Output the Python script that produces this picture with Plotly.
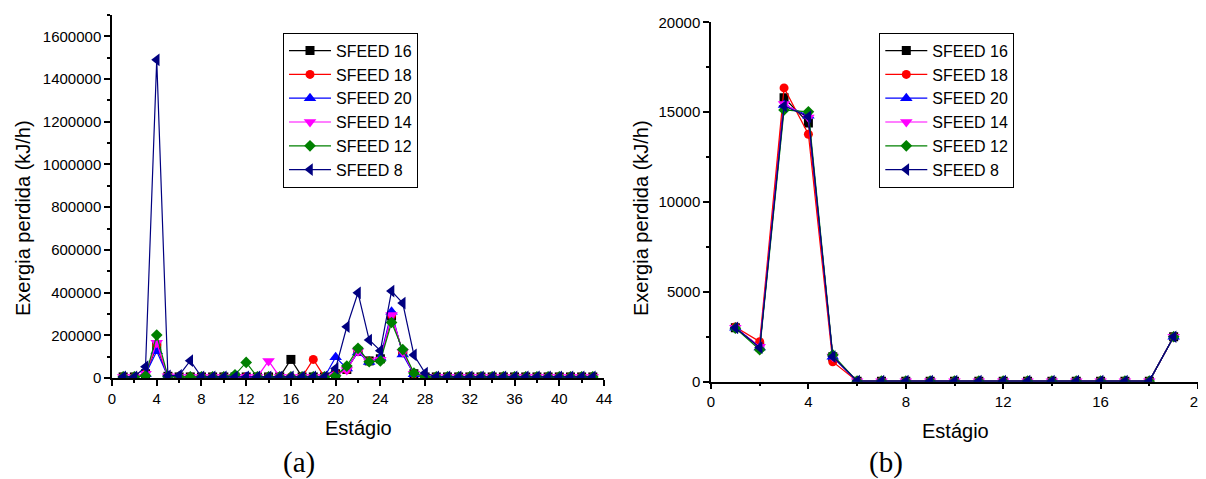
import plotly.graph_objects as go

# ---------------- data ----------------
series_names = ["SFEED 16", "SFEED 18", "SFEED 20", "SFEED 14", "SFEED 12", "SFEED 8"]
colors = ["#000000", "#FF0000", "#0000FF", "#FF00FF", "#008000", "#000080"]
symbols = ["square", "circle", "triangle-up", "triangle-down", "diamond", "triangle-left"]

stages_a = list(range(1, 44))
tail_a = [5000] * 15  # stages 29..43

sfeed16_a = [5000, 5000, 20000, 150000, 8000, 5000, 5000, 5000, 5000, 5000, 5000, 5000, 5000, 5000,
             5000, 87000, 5000, 5000, 5000, 20000, 40000, 125000, 80000, 90000, 290000, 120000, 20000,
             5000] + tail_a
sfeed18_a = [5000, 5000, 20000, 155000, 8000, 5000, 5000, 5000, 5000, 5000, 5000, 5000, 5000, 5000,
             5000, 5000, 5000, 87000, 5000, 20000, 40000, 125000, 78000, 88000, 295000, 118000, 20000,
             5000] + tail_a
sfeed20_a = [5000, 5000, 18000, 125000, 8000, 5000, 5000, 5000, 5000, 5000, 5000, 5000, 5000, 5000,
             5000, 5000, 5000, 5000, 5000, 97000, 45000, 120000, 75000, 95000, 310000, 110000, 18000,
             5000] + tail_a
sfeed14_a = [5000, 5000, 20000, 165000, 8000, 5000, 5000, 5000, 5000, 5000, 5000, 5000, 5000, 80000,
             5000, 5000, 5000, 5000, 5000, 15000, 37000, 125000, 78000, 85000, 295000, 122000, 20000,
             5000] + tail_a
sfeed12_a = [5000, 5000, 10000, 201000, 8000, 5000, 5000, 5000, 5000, 5000, 15000, 73000, 5000, 5000,
             5000, 5000, 5000, 5000, 5000, 10000, 56000, 139000, 76000, 80000, 260000, 133000, 23000,
             5000] + tail_a
sfeed8_a = [5000, 5000, 53000, 1490000, 10000, 12000, 81000, 5000, 5000, 5000, 5000, 5000, 5000, 5000,
            5000, 5000, 5000, 5000, 5000, 45000, 240000, 399000, 178000, 128000, 407000, 351000, 108000,
            23000] + tail_a

stages_b = list(range(1, 20))
zeros_b = [30] * 13  # stages 6..18
sfeed16_b = [3000, 1950, 15800, 14400, 1390] + zeros_b + [2500]
sfeed18_b = [3050, 2230, 16350, 13770, 1110] + zeros_b + [2500]
sfeed20_b = [3000, 1900, 15400, 14800, 1390] + zeros_b + [2500]
sfeed14_b = [3000, 1950, 15450, 14700, 1400] + zeros_b + [2500]
sfeed12_b = [2980, 1780, 15120, 15020, 1490] + zeros_b + [2500]
sfeed8_b = [3000, 1900, 15340, 14750, 1400] + zeros_b + [2500]

data_a = [sfeed16_a, sfeed18_a, sfeed20_a, sfeed14_a, sfeed12_a, sfeed8_a]
data_b = [sfeed16_b, sfeed18_b, sfeed20_b, sfeed14_b, sfeed12_b, sfeed8_b]

x_title = "Estágio"
y_title = "Exergia perdida (kJ/h)"
panel_labels = ["(a)", "(b)"]

# ---------------- figure ----------------
W, H = 1206, 479
OFF = 8  # page body margin


def px(x):
    return (x - OFF) / W


def py(y):
    return 1 - (y - OFF) / H


fig = go.Figure()


def msize(sym):
    return 11 if sym.startswith("triangle") else 9


for name, col, sym, ya, yb in zip(series_names, colors, symbols, data_a, data_b):
    fig.add_trace(go.Scatter(
        x=stages_a, y=ya, name=name, mode="lines+markers",
        line=dict(color=col, width=1.2),
        marker=dict(symbol=sym, size=msize(sym), color=col),
        xaxis="x", yaxis="y", legend="legend"))
    fig.add_trace(go.Scatter(
        x=stages_b, y=yb, name=name, mode="lines+markers",
        line=dict(color=col, width=1.2),
        marker=dict(symbol=sym, size=msize(sym), color=col),
        xaxis="x2", yaxis="y2", legend="legend2"))

axis_common = dict(
    showline=True, linecolor="black", linewidth=1.5, mirror=False, automargin=False,
    showgrid=False, zeroline=False, ticks="outside", ticklen=6, tickwidth=1.5,
    tickcolor="black", tickfont=dict(family="Liberation Sans, Arial", size=15, color="black"),
)
minor_common = dict(ticks="outside", ticklen=3, tickcolor="black", tickwidth=1.5)
legend_font = dict(family="Liberation Sans, Arial", size=16, color="black")

fig.update_layout(
    template="none",
    width=W, height=H, autosize=False,
    margin=dict(l=0, r=0, t=0, b=0, pad=0),
    paper_bgcolor="white", plot_bgcolor="white",
    font=dict(family="Liberation Sans, Arial", color="black"),
    xaxis=dict(domain=[px(112), px(604)], range=[0, 44], tickmode="linear", tick0=0, dtick=4,
               minor=dict(dtick=2, **minor_common), anchor="y", **axis_common),
    yaxis=dict(domain=[py(378), py(15)], range=[0, 1700000], tickmode="linear", tick0=0,
               dtick=200000, tickformat="d",
               minor=dict(dtick=100000, **minor_common), anchor="x", **axis_common),
    xaxis2=dict(domain=[px(711), px(1198)], range=[0, 20], tickmode="linear", tick0=0, dtick=4,
                minor=dict(dtick=2, **minor_common), anchor="y2", **axis_common),
    yaxis2=dict(domain=[py(381.7), py(22.3)], range=[0, 20000], tickmode="linear", tick0=0,
                dtick=5000, tickformat="d",
                minor=dict(dtick=2500, **minor_common), anchor="x2", **axis_common),
    legend=dict(x=px(283), y=py(32.7), xanchor="left", yanchor="top",
                bordercolor="black", borderwidth=1, bgcolor="white",
                font=legend_font, itemwidth=42, tracegroupgap=0),
    legend2=dict(x=px(879.3), y=py(32.7), xanchor="left", yanchor="top",
                 bordercolor="black", borderwidth=1, bgcolor="white",
                 font=legend_font, itemwidth=42, tracegroupgap=0),
)

ann_font = dict(family="Liberation Sans, Arial", size=20, color="black")
serif_font = dict(family="Liberation Serif, Times New Roman", size=29, color="black")
annotations = [
    dict(text=x_title, x=px(358), y=py(428), xref="paper", yref="paper",
         showarrow=False, font=ann_font, xanchor="center", yanchor="middle"),
    dict(text=x_title, x=px(955), y=py(431), xref="paper", yref="paper",
         showarrow=False, font=ann_font, xanchor="center", yanchor="middle"),
    dict(text=y_title, x=px(23), y=py(218), xref="paper", yref="paper", textangle=-90,
         showarrow=False, font=ann_font, xanchor="center", yanchor="middle"),
    dict(text=y_title, x=px(641), y=py(218), xref="paper", yref="paper", textangle=-90,
         showarrow=False, font=ann_font, xanchor="center", yanchor="middle"),
    dict(text=panel_labels[0], x=px(299), y=py(462), xref="paper", yref="paper",
         showarrow=False, font=serif_font, xanchor="center", yanchor="middle"),
    dict(text=panel_labels[1], x=px(886), y=py(462), xref="paper", yref="paper",
         showarrow=False, font=serif_font, xanchor="center", yanchor="middle"),
]
fig.update_layout(annotations=annotations)

fig.write_html("out.html")
